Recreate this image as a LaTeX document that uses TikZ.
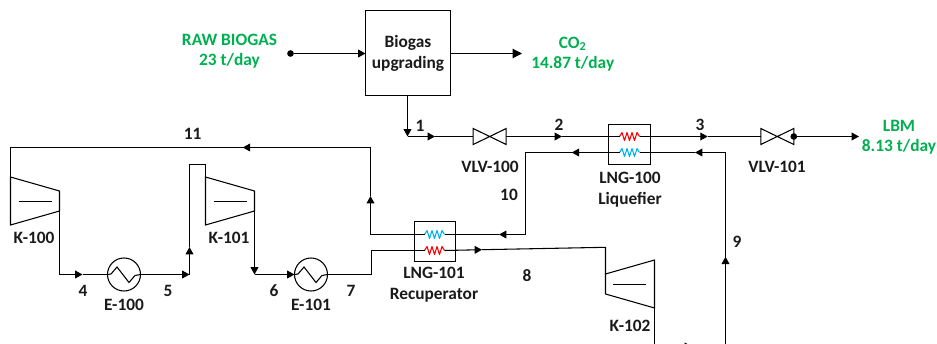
\documentclass[tikz,border=0pt]{standalone}
\usepackage{fontspec}
\setmainfont{Carlito}
\usetikzlibrary{arrows.meta,calc}
\definecolor{lblgreen}{HTML}{00B050}
\definecolor{coilred}{HTML}{FF0000}
\definecolor{coilblue}{HTML}{00B0F0}
\definecolor{lbldark}{HTML}{1A1A1A}
\tikzset{
  pipe/.style={line width=0.8pt,line join=miter,draw=black},
  flow/.style={pipe,-{Triangle[length=5.5pt,width=5.8pt]}},
  bigflow/.style={pipe,-{Triangle[length=7pt,width=7pt]}},
  lbl/.style={font=\bfseries\fontsize{13pt}{15.3pt}\selectfont,text=lbldark,inner sep=0pt,align=center},
  stream/.style={lbl},
  glbl/.style={lbl,text=lblgreen},
  equip/.style={draw=black,line width=0.8pt,rectangle,inner sep=0pt,outer sep=0pt},
  cooler/.style={draw=black,line width=0.8pt,circle,inner sep=0pt,outer sep=0pt,minimum size=24.75pt},
  dot/.style={fill=black,circle,inner sep=0pt,minimum size=5pt},
  compressorpic/.pic={
    \draw[pipe] (0,0) coordinate (-a) -- (49,14) coordinate (-b) -- (49,34) coordinate (-c) -- (0,48) coordinate (-d) -- cycle;
    \draw[pipe] (8,24.5) -- (41,24.5);
  },
  valvepic/.pic={
    \draw[pipe] (-16.5,-8) -- (16.5,8) -- (16.5,-8) -- (-16.5,8) -- cycle;
    \coordinate (-in) at (-16.5,0);
    \coordinate (-out) at (16.5,0);
  },
  zigzagpic/.pic={
    \draw[pipe] (-16.5,0) -- (-13,-0.5) -- (-7,-7.5) -- (5,8) -- (11,1) -- (16.5,0);
  },
  coilpic/.style={line width=0.8pt,line join=round},
}
\newcommand{\coilpath}[1]{%
  \draw[coilpic,#1] (0,0) -- (2.5,-4) -- (5,4) -- (7.5,-4) -- (10,4) -- (12.5,-4) -- (15,4) -- (17.5,-4) -- (20,0);}
\begin{document}
\begin{tikzpicture}[x=0.75pt,y=-0.75pt]
\useasboundingbox (0,0) rectangle (937,343);
\clip (0,0) rectangle (937,343);
% equipment
\node[equip,minimum width=63.75pt,minimum height=63.75pt] (bio) at (408,53) {};
\node[lbl] (biotxt) at (408,53.5) {Biogas\\upgrading};
\node[dot] (src) at (290.5,53.5) {};
\coordinate (co2end) at (522,53.5);
\pic (v100) at (489.7,136.5) {valvepic};
\pic (v101) at (777.3,136.5) {valvepic};
\node[dot] (vdot) at (793.8,136.5) {};
\coordinate (lbmend) at (859,136.5);
\node[equip,minimum width=31.5pt,minimum height=30pt] (lng100) at (629.5,144.5) {};
\node[equip,minimum width=30.75pt,minimum height=30pt] (lng101) at (435,241.5) {};
\pic (k100) at (10.5,177) {compressorpic};
\pic (k101) at (205.5,177) {compressorpic};
% K-102 (mirrored compressor)
\coordinate (k102-a) at (654.5,260);
\coordinate (k102-b) at (605.5,274);
\coordinate (k102-c) at (605.5,294);
\coordinate (k102-d) at (654.5,308);
\draw[pipe] (k102-a) -- (k102-b) -- (k102-c) -- (k102-d) -- cycle;
\draw[pipe] (613,284.5) -- (646,284.5);
\node[cooler] (e100) at (124,274.5) {};
\pic at (124,274.5) {zigzagpic};
\node[cooler] (e101) at (311,274.5) {};
\pic at (311,274.5) {zigzagpic};
% coils
\begin{scope}[shift={(619.5,136.5)}]\coilpath{coilred}\coordinate (r100a) at (0,0);\coordinate (r100b) at (20,0);\end{scope}
\begin{scope}[shift={(619.5,152.5)}]\coilpath{coilblue}\coordinate (b100a) at (0,0);\coordinate (b100b) at (20,0);\end{scope}
\begin{scope}[shift={(424.5,234.5)}]\coilpath{coilblue}\coordinate (b101a) at (0,0);\coordinate (b101b) at (20,0);\end{scope}
\begin{scope}[shift={(424.5,250.5)}]\coilpath{coilred}\coordinate (r101a) at (0,0);\coordinate (r101b) at (20,0);\end{scope}
% top connectors
\draw[flow] (src) -- (bio.west |- src);
\draw[bigflow] (bio.east |- co2end) -- (co2end);
\coordinate (j1) at (407.5,136.5);
\draw[flow] (bio.south -| j1) -- (j1);
\coordinate (a1) at (435,136.5);
\draw[flow] (j1) -- (a1);
\draw[pipe] (a1) -- (v100-in);
% stream 2
\coordinate (a2) at (562,136.5);
\draw[flow] (v100-out) -- (a2);
\draw[pipe] (a2) -- (r100a);
% stream 3
\coordinate (a3) at (707.7,136.5);
\draw[flow] (r100b) -- (a3);
\draw[pipe] (a3) -- (v101-in);
\draw[flow] (vdot) -- (lbmend);
% stream 9
\coordinate (c9a) at (654.5,346.5);
\coordinate (a8b) at (692,346.5);
\coordinate (c9b) at (725.5,346.5);
\coordinate (a9) at (725.5,256.7);
\coordinate (c9c) at (725.5,152.5);
\coordinate (a9b) at (695,152.5);
\draw[pipe] (k102-d) -- (c9a);
\draw[flow] (c9a) -- (a8b);
\draw[pipe] (a8b) -- (c9b);
\draw[flow] (c9b) -- (a9);
\draw[pipe] (a9) -- (c9c);
\draw[flow] (c9c) -- (a9b);
\draw[pipe] (a9b) -- (b100b);
% stream 10
\coordinate (a10a) at (571.7,152.5);
\coordinate (c10a) at (525.5,152.5);
\coordinate (c10b) at (525.5,234.5);
\coordinate (a10b) at (499,234.5);
\draw[flow] (b100a) -- (a10a);
\draw[pipe] (a10a) -- (c10a) -- (c10b);
\draw[flow] (c10b) -- (a10b);
\draw[pipe] (a10b) -- (b101b);
% stream 11
\coordinate (c11a) at (370.5,234.5);
\coordinate (a11a) at (370.5,196);
\coordinate (c11b) at (370.5,147.5);
\coordinate (a11b) at (242.7,147.5);
\coordinate (c11c) at (10.5,147.5);
\draw[pipe] (b101a) -- (c11a);
\draw[flow] (c11a) -- (a11a);
\draw[pipe] (a11a) -- (c11b);
\draw[flow] (c11b) -- (a11b);
\draw[pipe] (a11b) -- (c11c) -- (k100-a);
% stream 4 and 5
\coordinate (c4) at (59.5,274.5);
\coordinate (a4) at (82.5,274.5);
\draw[pipe] (k100-c) -- (c4);
\draw[flow] (c4) -- (a4);
\draw[pipe] (a4) -- (e100.west);
\coordinate (c5) at (189.5,274.5);
\coordinate (a5) at (189.5,247);
\coordinate (c5b) at (189.5,164.5);
\draw[flow] (e100.east) -- (c5);
\draw[flow] (c5) -- (a5);
\draw[pipe] (a5) -- (c5b) -- (c5b -| k101-a) -- (k101-a);
% stream 6 and 7
\coordinate (c6) at (254.5,274.5);
\draw[flow] (k101-c) -- (c6);
\draw[flow] (c6) -- (e101.west);
\coordinate (c7) at (371.5,274.5);
\coordinate (c7b) at (371.5,250.5);
\draw[pipe] (e101.east) -- (c7) -- (c7b) -- (r101a);
% stream 8
\coordinate (a8) at (482,249.7);
\coordinate (c8) at (605.5,247.3);
\draw[flow] (r101b) -- (a8);
\draw[pipe] (a8) -- (c8) -- (k102-b);
% labels
\node[glbl] (raw) at (229.5,51) {RAW BIOGAS\\23 t/day};
\node[glbl] (co2) at (572.7,54) {CO\textsubscript{2}\\14.87 t/day};
\node[glbl] (lbm) at (899,137.5) {LBM\\8.13 t/day};
\node[stream] (s1) at (420,125.5) {1};
\node[stream] (s2) at (559,125) {2};
\node[stream] (s3) at (700,125) {3};
\node[stream] (s4) at (83,291) {4};
\node[stream] (s5) at (168,291) {5};
\node[stream] (s6) at (274,291) {6};
\node[stream] (s7) at (351,291) {7};
\node[stream] (s8) at (527,276) {8};
\node[stream] (s9) at (737,242) {9};
\node[stream] (s10) at (509,195) {10};
\node[stream] (s11) at (192.7,134) {11};
\node[lbl] (lv100) at (490,167) {VLV-100};
\node[lbl] (lv101) at (777,167) {VLV-101};
\node[lbl] (lk100) at (34,237.7) {K-100};
\node[lbl] (lk101) at (229,237.7) {K-101};
\node[lbl] (lk102) at (630,326) {K-102};
\node[lbl] (le100) at (124,304.5) {E-100};
\node[lbl] (le101) at (311,304.5) {E-101};
\node[lbl] (llng100) at (630,189.5) {LNG-100\\Liquefier};
\node[lbl] (llng101) at (434,284.5) {LNG-101\\Recuperator};
\end{tikzpicture}
\end{document}
